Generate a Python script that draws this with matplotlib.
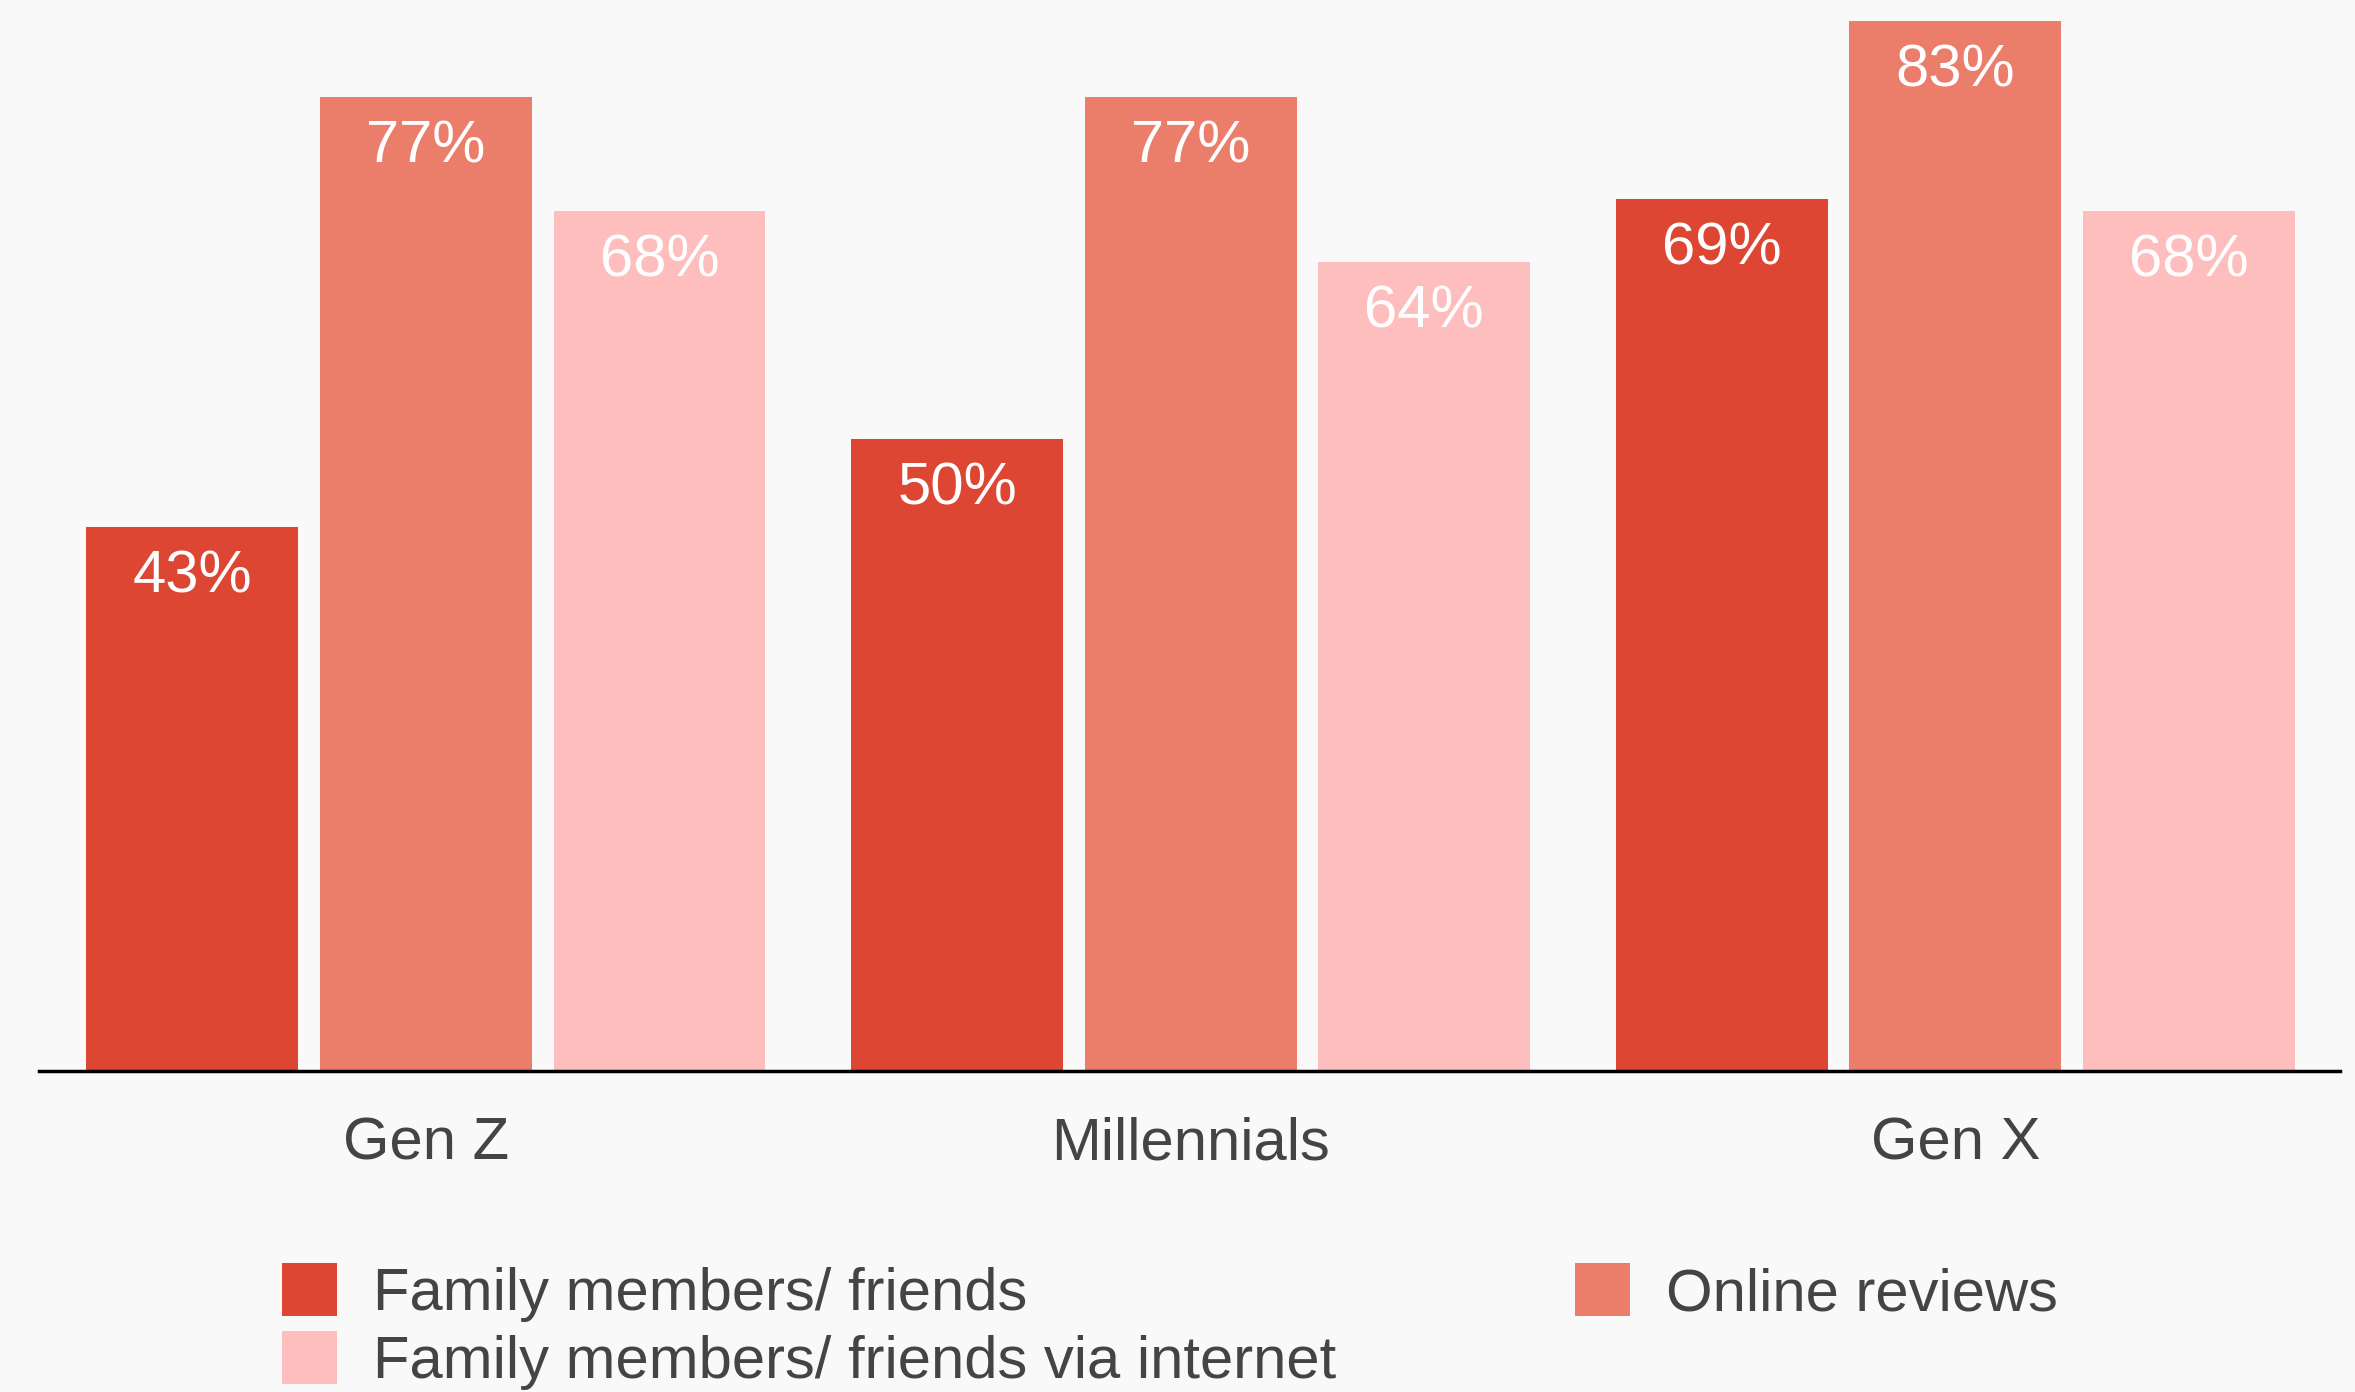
import matplotlib
matplotlib.use("Agg")
import matplotlib.pyplot as plt
import numpy as np

categories = ["Gen Z", "Millennials", "Gen X"]
series_names = ["Family members/ friends", "Online reviews", "Family members/ friends via internet"]
family_friends = [43, 50, 69]
online_reviews = [77, 77, 83]
via_internet = [68, 64, 68]
series_values = [family_friends, online_reviews, via_internet]
colors = ["#DD4632", "#EB7D6B", "#FFBEBE"]

plt.rcParams['font.family'] = ['Liberation Sans', 'DejaVu Sans']

W, H = 2355, 1392
fig = plt.figure(figsize=(W / 100, H / 100), dpi=100, facecolor="#F9F9F9")
ax = fig.add_axes([39 / W, 1 - 1071 / H, (2340 - 39) / W, 1071 / H])
ax.set_facecolor("#F9F9F9")

x = np.arange(len(categories))
step = 0.3055
width = 0.277
handles = []
for i, (vals, name, c) in enumerate(zip(series_values, series_names, colors)):
    bars = ax.bar(x + (i - 1) * step, vals, width=width, color=c, label=name, zorder=2)
    handles.append(bars)
    for b, v in zip(bars, vals):
        ax.annotate(f"{v}%", (b.get_x() + b.get_width() / 2, b.get_height()),
                    xytext=(0, -36), textcoords="offset points",
                    ha="center", va="center", color="white", fontsize=43)

ax.set_xlim(-0.506, 2.503)
ax.set_ylim(0, 84.7)
ax.set_xticks(x)
ax.set_xticklabels(categories, fontsize=43, color="#444444")
ax.tick_params(axis="x", length=0, pad=33)
ax.set_yticks([])
for s in ["top", "right", "left"]:
    ax.spines[s].set_visible(False)
ax.spines["bottom"].set_linewidth(2.5)
ax.spines["bottom"].set_color("black")
ax.spines["bottom"].set_zorder(3)

order = [0, 2, 1]
leg = fig.legend([handles[k] for k in order], [series_names[k] for k in order],
                 ncol=2, loc="upper left", bbox_to_anchor=(282 / W, 1 - 1263 / H),
                 frameon=False, fontsize=43, labelcolor="#444444",
                 handlelength=0.92, handleheight=0.99, handletextpad=0.6,
                 columnspacing=4.0, labelspacing=0.15, borderaxespad=0, borderpad=0)

fig.savefig("out.png", dpi=100, facecolor=fig.get_facecolor())
